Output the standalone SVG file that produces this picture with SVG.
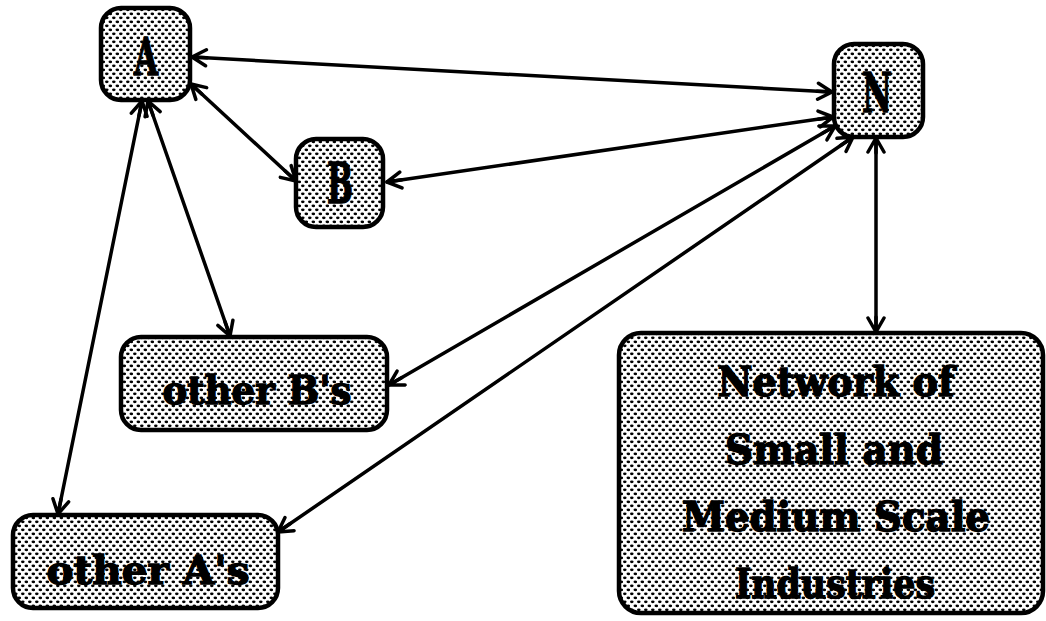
<svg xmlns="http://www.w3.org/2000/svg" width="1046" height="621" viewBox="0 0 1046 621">
  <defs>
    <!-- stippled fill used by every node -->
    <pattern id="stipple" width="7" height="8" patternUnits="userSpaceOnUse">
      <rect width="7" height="8" fill="#ffffff"/>
      <ellipse cx="1.8" cy="1.8" rx="1.8" ry="1.4" fill="#000"/>
      <ellipse cx="5.3" cy="5.8" rx="1.8" ry="1.4" fill="#000"/>
    </pattern>
    <!-- open V arrowhead -->
    <marker id="arrow" viewBox="-17 -10 19 20" markerWidth="19" markerHeight="20" refX="0" refY="0" orient="auto-start-reverse" markerUnits="userSpaceOnUse">
      <path d="M-14,-8 L0,0 L-14,8 M-15,0 L0,0" fill="none" stroke="#000" stroke-width="3.5" stroke-linecap="round" stroke-linejoin="round"/>
    </marker>
  </defs>
  <style>
    .box { fill: url(#stipple); stroke: #000; stroke-width: 4.5; }
    .lbl { font-family: "DejaVu Serif Condensed", "DejaVu Serif", "Liberation Serif", serif; font-weight: bold; fill: #000; stroke: #000; stroke-width: 1.3; text-anchor: middle; }
    .link { fill: none; stroke: #000; stroke-width: 3.5; stroke-linecap: round; marker-start: url(#arrow); marker-end: url(#arrow); }
  </style>

  <rect width="1046" height="621" fill="#ffffff"/>

  <g id="connectors">
    <line class="link" x1="192" y1="57" x2="832" y2="92"/>
    <line class="link" x1="191" y1="84" x2="296" y2="181"/>
    <line class="link" x1="387" y1="182" x2="833" y2="117"/>
    <line class="link" x1="148" y1="101" x2="230" y2="336"/>
    <line class="link" x1="142" y1="101" x2="58" y2="514"/>
    <line class="link" x1="835" y1="126" x2="389" y2="385"/>
    <line class="link" x1="853" y1="137" x2="278" y2="532"/>
    <line class="link" x1="876" y1="138" x2="876" y2="332"/>
  </g>

  <g id="node-a">
    <rect class="box" x="101" y="8" width="89" height="92" rx="20"/>
    <text class="lbl" x="146" y="75" font-size="52" textLength="24" lengthAdjust="spacingAndGlyphs">A</text>
  </g>

  <g id="node-n">
    <rect class="box" x="834" y="44" width="89" height="93" rx="20"/>
    <text class="lbl" x="877" y="112" font-size="54" textLength="30" lengthAdjust="spacingAndGlyphs">N</text>
  </g>

  <g id="node-b">
    <rect class="box" x="296" y="139" width="87" height="88" rx="20"/>
    <text class="lbl" x="340" y="203" font-size="56" textLength="26" lengthAdjust="spacingAndGlyphs">B</text>
  </g>

  <g id="node-other-bs">
    <rect class="box" x="121" y="337" width="266" height="93" rx="20"/>
    <text class="lbl" x="257" y="404" font-size="40" textLength="189" lengthAdjust="spacingAndGlyphs">other B's</text>
  </g>

  <g id="node-other-as">
    <rect class="box" x="13" y="515" width="265" height="93" rx="20"/>
    <text class="lbl" x="148" y="584" font-size="40" textLength="203" lengthAdjust="spacingAndGlyphs">other A's</text>
  </g>

  <g id="node-network">
    <rect class="box" x="619" y="333" width="424" height="280" rx="22"/>
    <text class="lbl" x="836" y="396" font-size="41" textLength="237" lengthAdjust="spacingAndGlyphs">Network of</text>
    <text class="lbl" x="834" y="464" font-size="41" textLength="218" lengthAdjust="spacingAndGlyphs">Small and</text>
    <text class="lbl" x="836" y="531" font-size="41" textLength="308" lengthAdjust="spacingAndGlyphs">Medium Scale</text>
    <text class="lbl" x="835" y="598" font-size="41" textLength="200" lengthAdjust="spacingAndGlyphs">Industries</text>
  </g>
</svg>
